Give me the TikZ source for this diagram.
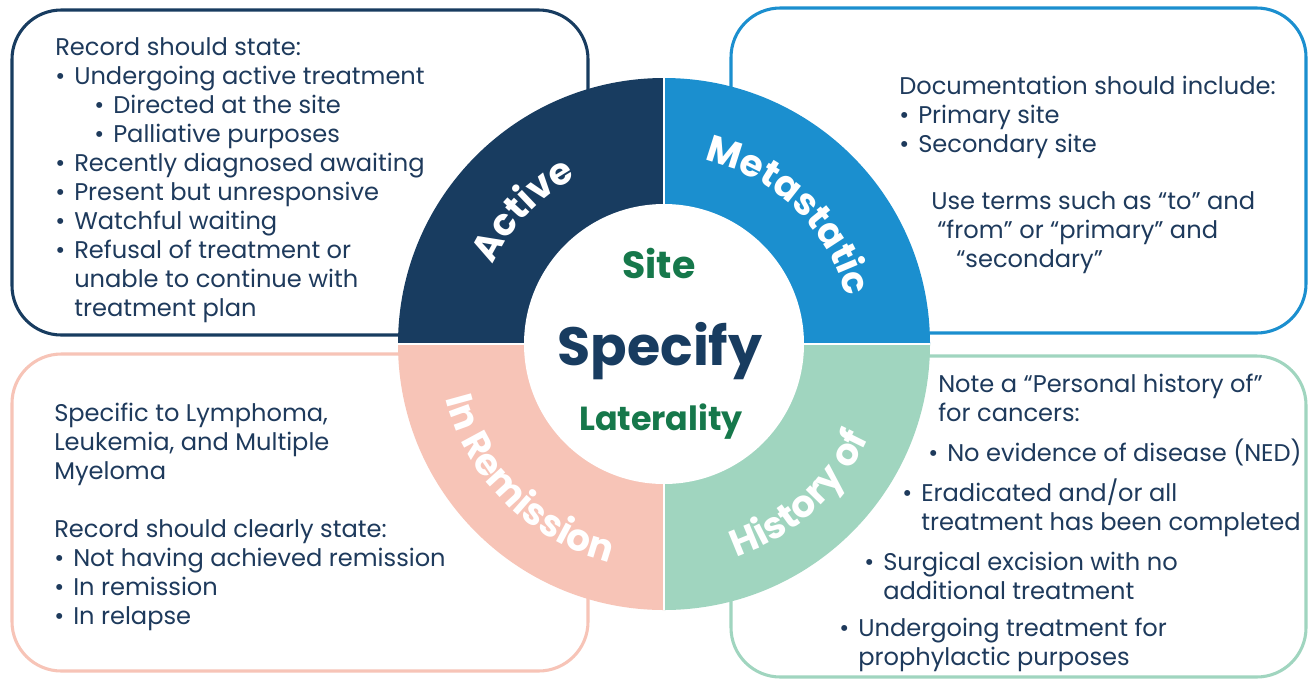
\documentclass[tikz,border=0pt]{standalone}
\usepackage{fontspec}
\setmainfont{Poppins}
\usetikzlibrary{decorations.text}
\definecolor{navyc}{RGB}{24,60,96}
\definecolor{bluec}{RGB}{27,143,207}
\definecolor{pinkc}{RGB}{247,196,183}
\definecolor{greenc}{RGB}{160,213,191}
\definecolor{txtc}{RGB}{30,58,92}
\definecolor{sitec}{RGB}{22,120,75}
\newcommand\bodyfont{\fontsize{18.1}{21.75}\selectfont}
\newcommand\bu{\makebox[14.25pt][l]{•}}
\newcommand\ind{\hspace*{14.25pt}}
\newcommand\blk[1]{\begin{tabular}[t]{@{}l@{}}#1\end{tabular}}
\newcommand\ringfont{\fontsize{28}{28}\selectfont\bfseries\color{white}}
\begin{document}
\begin{tikzpicture}[x=0.75pt,y=0.75pt,
  panel/.style={draw, fill=white, line width=2.3pt, rounded corners=37pt},
  txt/.style={anchor=base west, inner sep=0pt, text=txtc, font=\bodyfont},
  ctext/.style={anchor=base, inner sep=0pt},
  sep/.style={draw=white, line width=1.2pt},
  ringlabel/.style={decorate, decoration={text along path, text align=center, text={|\ringfont|#1}}}]
\useasboundingbox (0,0) rectangle (1313,-679);
\fill[white] (0,0) rectangle (1313,-679);
% panels
\draw[panel, draw=navyc] (12,-10) rectangle (588,-335);
\draw[panel, draw=bluec] (731,-8) rectangle (1306,-333);
\draw[panel, draw=pinkc] (12,-354) rectangle (588,-671);
\draw[panel, draw=greenc] (731,-356) rectangle (1306,-677);
% ring
\coordinate (ctr) at (664,-344);
\fill[navyc] (ctr) -- ++(90:266) arc[start angle=90, end angle=180, radius=266] -- cycle;
\fill[bluec] (ctr) -- ++(0:266) arc[start angle=0, end angle=90, radius=266] -- cycle;
\fill[pinkc] (ctr) -- ++(180:266) arc[start angle=180, end angle=270, radius=266] -- cycle;
\fill[greenc] (ctr) -- ++(270:266) arc[start angle=270, end angle=360, radius=266] -- cycle;
\path[sep] (ctr) ++(90:266) -- ++(0,-532);
\path[sep] (ctr) ++(180:266) -- ++(532,0);
\fill[white] (ctr) circle[radius=140];
% ring labels
\path[ringlabel=Active] ([shift={(181:188)}]ctr) arc[start angle=181, end angle=92, radius=188];
\path[ringlabel=Metastatic] ([shift={(92:188)}]ctr) arc[start angle=92, end angle=0, radius=188];
\path[ringlabel={In Remission}] ([shift={(180:225)}]ctr) arc[start angle=180, end angle=270, radius=225];
\path[ringlabel={History of}] ([shift={(268:225)}]ctr) arc[start angle=268, end angle=356, radius=225];
% centre
\node[ctext, text=sitec, font=\fontsize{28.4}{28.4}\selectfont\bfseries] (site) at (659,-278) {Site};
\node[ctext, text=navyc, font=\fontsize{40.4}{40.4}\selectfont\bfseries] (specify) at (660,-365) {Specify};
\node[ctext, text=sitec, font=\fontsize{25}{25}\selectfont\bfseries] (lat) at (661,-430) {Laterality};
% top-left text
\node[txt] (tl) at (55,-55) {\blk{Record should state:\\
\bu Undergoing active treatment\\
\hspace*{29.25pt}\bu Directed at the site\\
\hspace*{29.25pt}\bu Palliative purposes\\
\bu Recently diagnosed awaiting\\
\bu Present but unresponsive\\
\bu Watchful waiting\\
\bu Refusal of treatment or\\
\ind unable to continue with\\
\ind treatment plan}};
% top-right text
\node[txt] (tr) at (899,-94) {\blk{Documentation should include:\\
\bu Primary site\\
\bu Secondary site}};
\node[txt] (tr1) at (931,-209) {Use terms such as “to” and};
\node[txt] (tr2) at (937,-238) {“from” or “primary” and};
\node[txt] (tr3) at (956,-267) {“secondary”};
% bottom-left text
\node[txt] (bl) at (54,-421) {\blk{Specific to Lymphoma,\\
Leukemia, and Multiple\\
Myeloma\\
\\
Record should clearly state:\\
\bu Not having achieved remission\\
\bu In remission\\
\bu In relapse}};
% bottom-right text
\node[txt] (br) at (938,-392) {\blk{Note a “Personal history of”\\for cancers:}};
\node[txt] (br1) at (928,-461) {\bu No evidence of disease (NED)};
\node[txt] (br2) at (902,-501) {\blk{\bu Eradicated and/or all\\ \ind treatment has been completed}};
\node[txt] (br3) at (864,-570) {\blk{\bu Surgical excision with no\\ \ind additional treatment}};
\node[txt] (br4) at (839,-636) {\blk{\bu Undergoing treatment for\\ \ind prophylactic purposes}};
\end{tikzpicture}
\end{document}
